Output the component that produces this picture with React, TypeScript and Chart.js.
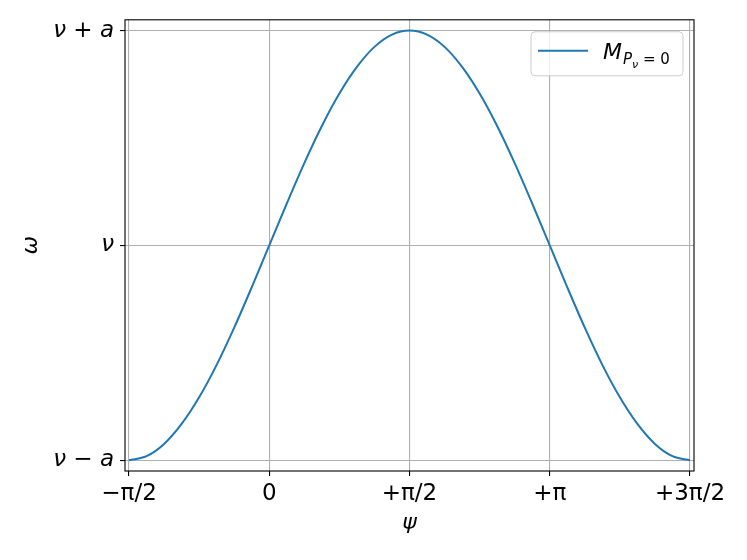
import React, { useEffect, useRef } from "react";
import { Chart, registerables } from "chart.js";

Chart.register(...registerables);

// psi in units of pi
const psiOverPi = [
  -0.5, -0.4375, -0.375, -0.3125, -0.25, -0.1875, -0.125, -0.0625, 0,
  0.0625, 0.125, 0.1875, 0.25, 0.3125, 0.375, 0.4375, 0.5,
  0.5625, 0.625, 0.6875, 0.75, 0.8125, 0.875, 0.9375, 1,
  1.0625, 1.125, 1.1875, 1.25, 1.3125, 1.375, 1.4375, 1.5,
];
// (omega - nu) / a
const omegaNorm = [
  -1, -0.981, -0.924, -0.831, -0.707, -0.556, -0.383, -0.195, 0,
  0.195, 0.383, 0.556, 0.707, 0.831, 0.924, 0.981, 1,
  0.981, 0.924, 0.831, 0.707, 0.556, 0.383, 0.195, 0,
  -0.195, -0.383, -0.556, -0.707, -0.831, -0.924, -0.981, -1,
];

const xTickValues = [-0.5, 0, 0.5, 1, 1.5];
const xTickLabels = ["\u2212\u03c0/2", "0", "+\u03c0/2", "+\u03c0", "+3\u03c0/2"];
const yTickValues = [-1, 0, 1];
const yTickLabels = ["\u03bd \u2212 a", "\u03bd", "\u03bd + a"];
const xTitle = "\u03c8";
const yTitle = "\u03c9";
const legendMain = "M";
const legendSub = "P";
const legendSubSub = "\u03bd";
const legendSubTail = " = 0";

const FONT = "'DejaVu Sans'";
const LINE_COLOR = "#1f77b4";

const decorPlugin = {
  id: "decor",
  afterDraw(chart: any) {
    const { ctx, chartArea } = chart;
    const { left, right, top, bottom } = chartArea;
    ctx.save();
    // frame
    ctx.strokeStyle = "#000";
    ctx.lineWidth = 1.1;
    ctx.strokeRect(left, top, right - left, bottom - top);

    // axis titles
    ctx.fillStyle = "#000";
    ctx.font = `italic 22px ${FONT}`;
    ctx.textAlign = "center";
    ctx.textBaseline = "middle";
    ctx.fillText(xTitle, (left + right) / 2, bottom + 52);
    ctx.save();
    ctx.translate(left - 94, (top + bottom) / 2);
    ctx.rotate(-Math.PI / 2);
    ctx.fillText(yTitle, 0, 0);
    ctx.restore();

    // legend
    const bw = 152, bh = 44;
    const bx = right - 11 - bw;
    const by = top + 12;
    const r = 4;
    ctx.beginPath();
    ctx.moveTo(bx + r, by);
    ctx.lineTo(bx + bw - r, by);
    ctx.quadraticCurveTo(bx + bw, by, bx + bw, by + r);
    ctx.lineTo(bx + bw, by + bh - r);
    ctx.quadraticCurveTo(bx + bw, by + bh, bx + bw - r, by + bh);
    ctx.lineTo(bx + r, by + bh);
    ctx.quadraticCurveTo(bx, by + bh, bx, by + bh - r);
    ctx.lineTo(bx, by + r);
    ctx.quadraticCurveTo(bx, by, bx + r, by);
    ctx.closePath();
    ctx.fillStyle = "rgba(255,255,255,0.8)";
    ctx.fill();
    ctx.strokeStyle = "#cccccc";
    ctx.lineWidth = 1;
    ctx.stroke();

    const ly = by + 19;
    ctx.strokeStyle = LINE_COLOR;
    ctx.lineWidth = 2;
    ctx.beginPath();
    ctx.moveTo(bx + 7, ly);
    ctx.lineTo(bx + 57, ly);
    ctx.stroke();

    ctx.fillStyle = "#000";
    ctx.textAlign = "left";
    ctx.textBaseline = "alphabetic";
    let tx = bx + 72;
    const base = by + 27;
    ctx.font = `italic 22px ${FONT}`;
    ctx.fillText(legendMain, tx, base);
    tx += ctx.measureText(legendMain).width + 1;
    ctx.font = `italic 15px ${FONT}`;
    ctx.fillText(legendSub, tx, base + 5);
    tx += ctx.measureText(legendSub).width;
    ctx.font = `italic 11px ${FONT}`;
    ctx.fillText(legendSubSub, tx, base + 9);
    tx += ctx.measureText(legendSubSub).width;
    ctx.font = `15px ${FONT}`;
    ctx.fillText(legendSubTail, tx, base + 5);
    ctx.restore();
  },
};

export default function App() {
  const ref = useRef<HTMLCanvasElement | null>(null);
  useEffect(() => {
    if (!ref.current) return;
    const chart = new Chart(ref.current, {
      type: "line",
      data: {
        datasets: [
          {
            label: "M_P_nu=0",
            data: psiOverPi.map((x, i) => ({ x, y: omegaNorm[i] })),
            borderColor: LINE_COLOR,
            borderWidth: 2,
            pointRadius: 0,
            cubicInterpolationMode: "monotone",
            fill: false,
          },
        ],
      },
      options: {
        animation: false,
        responsive: true,
        maintainAspectRatio: false,
        layout: { padding: { left: 0, top: 17, right: 53, bottom: 0 } },
        plugins: { legend: { display: false }, tooltip: { enabled: false } },
        scales: {
          x: {
            type: "linear",
            min: -0.5143,
            max: 1.5143,
            afterBuildTicks: (s: any) => {
              s.ticks = xTickValues.map((v) => ({ value: v }));
            },
            afterFit: (s: any) => {
              s.height = 89;
            },
            ticks: {
              autoSkip: false,
              maxRotation: 0,
              padding: 4,
              color: "#000",
              font: { family: FONT, size: 23 },
              callback: (v: any) => {
                const i = xTickValues.indexOf(Number(v));
                return i >= 0 ? xTickLabels[i] : "";
              },
            },
            grid: {
              color: "#b0b0b0",
              lineWidth: 1.1,
              tickColor: "#000",
              tickLength: 5,
              drawTicks: true,
            },
            border: { display: false },
          },
          y: {
            type: "linear",
            min: -1.05,
            max: 1.05,
            afterBuildTicks: (s: any) => {
              s.ticks = yTickValues.map((v) => ({ value: v }));
            },
            afterFit: (s: any) => {
              s.width = 125;
            },
            ticks: {
              autoSkip: false,
              padding: 6,
              color: "#000",
              font: { family: FONT, size: 23, style: "italic" },
              callback: (v: any) => {
                const i = yTickValues.indexOf(Number(v));
                return i >= 0 ? yTickLabels[i] : "";
              },
            },
            grid: {
              color: "#b0b0b0",
              lineWidth: 1.1,
              tickColor: "#000",
              tickLength: 5,
              drawTicks: true,
            },
            border: { display: false },
          },
        },
      },
      plugins: [decorPlugin],
    });
    return () => chart.destroy();
  }, []);
  return (
    <div style={{ position: "absolute", left: 0, top: 0, width: 747, height: 560, background: "#fff" }}>
      <canvas ref={ref} />
    </div>
  );
}
